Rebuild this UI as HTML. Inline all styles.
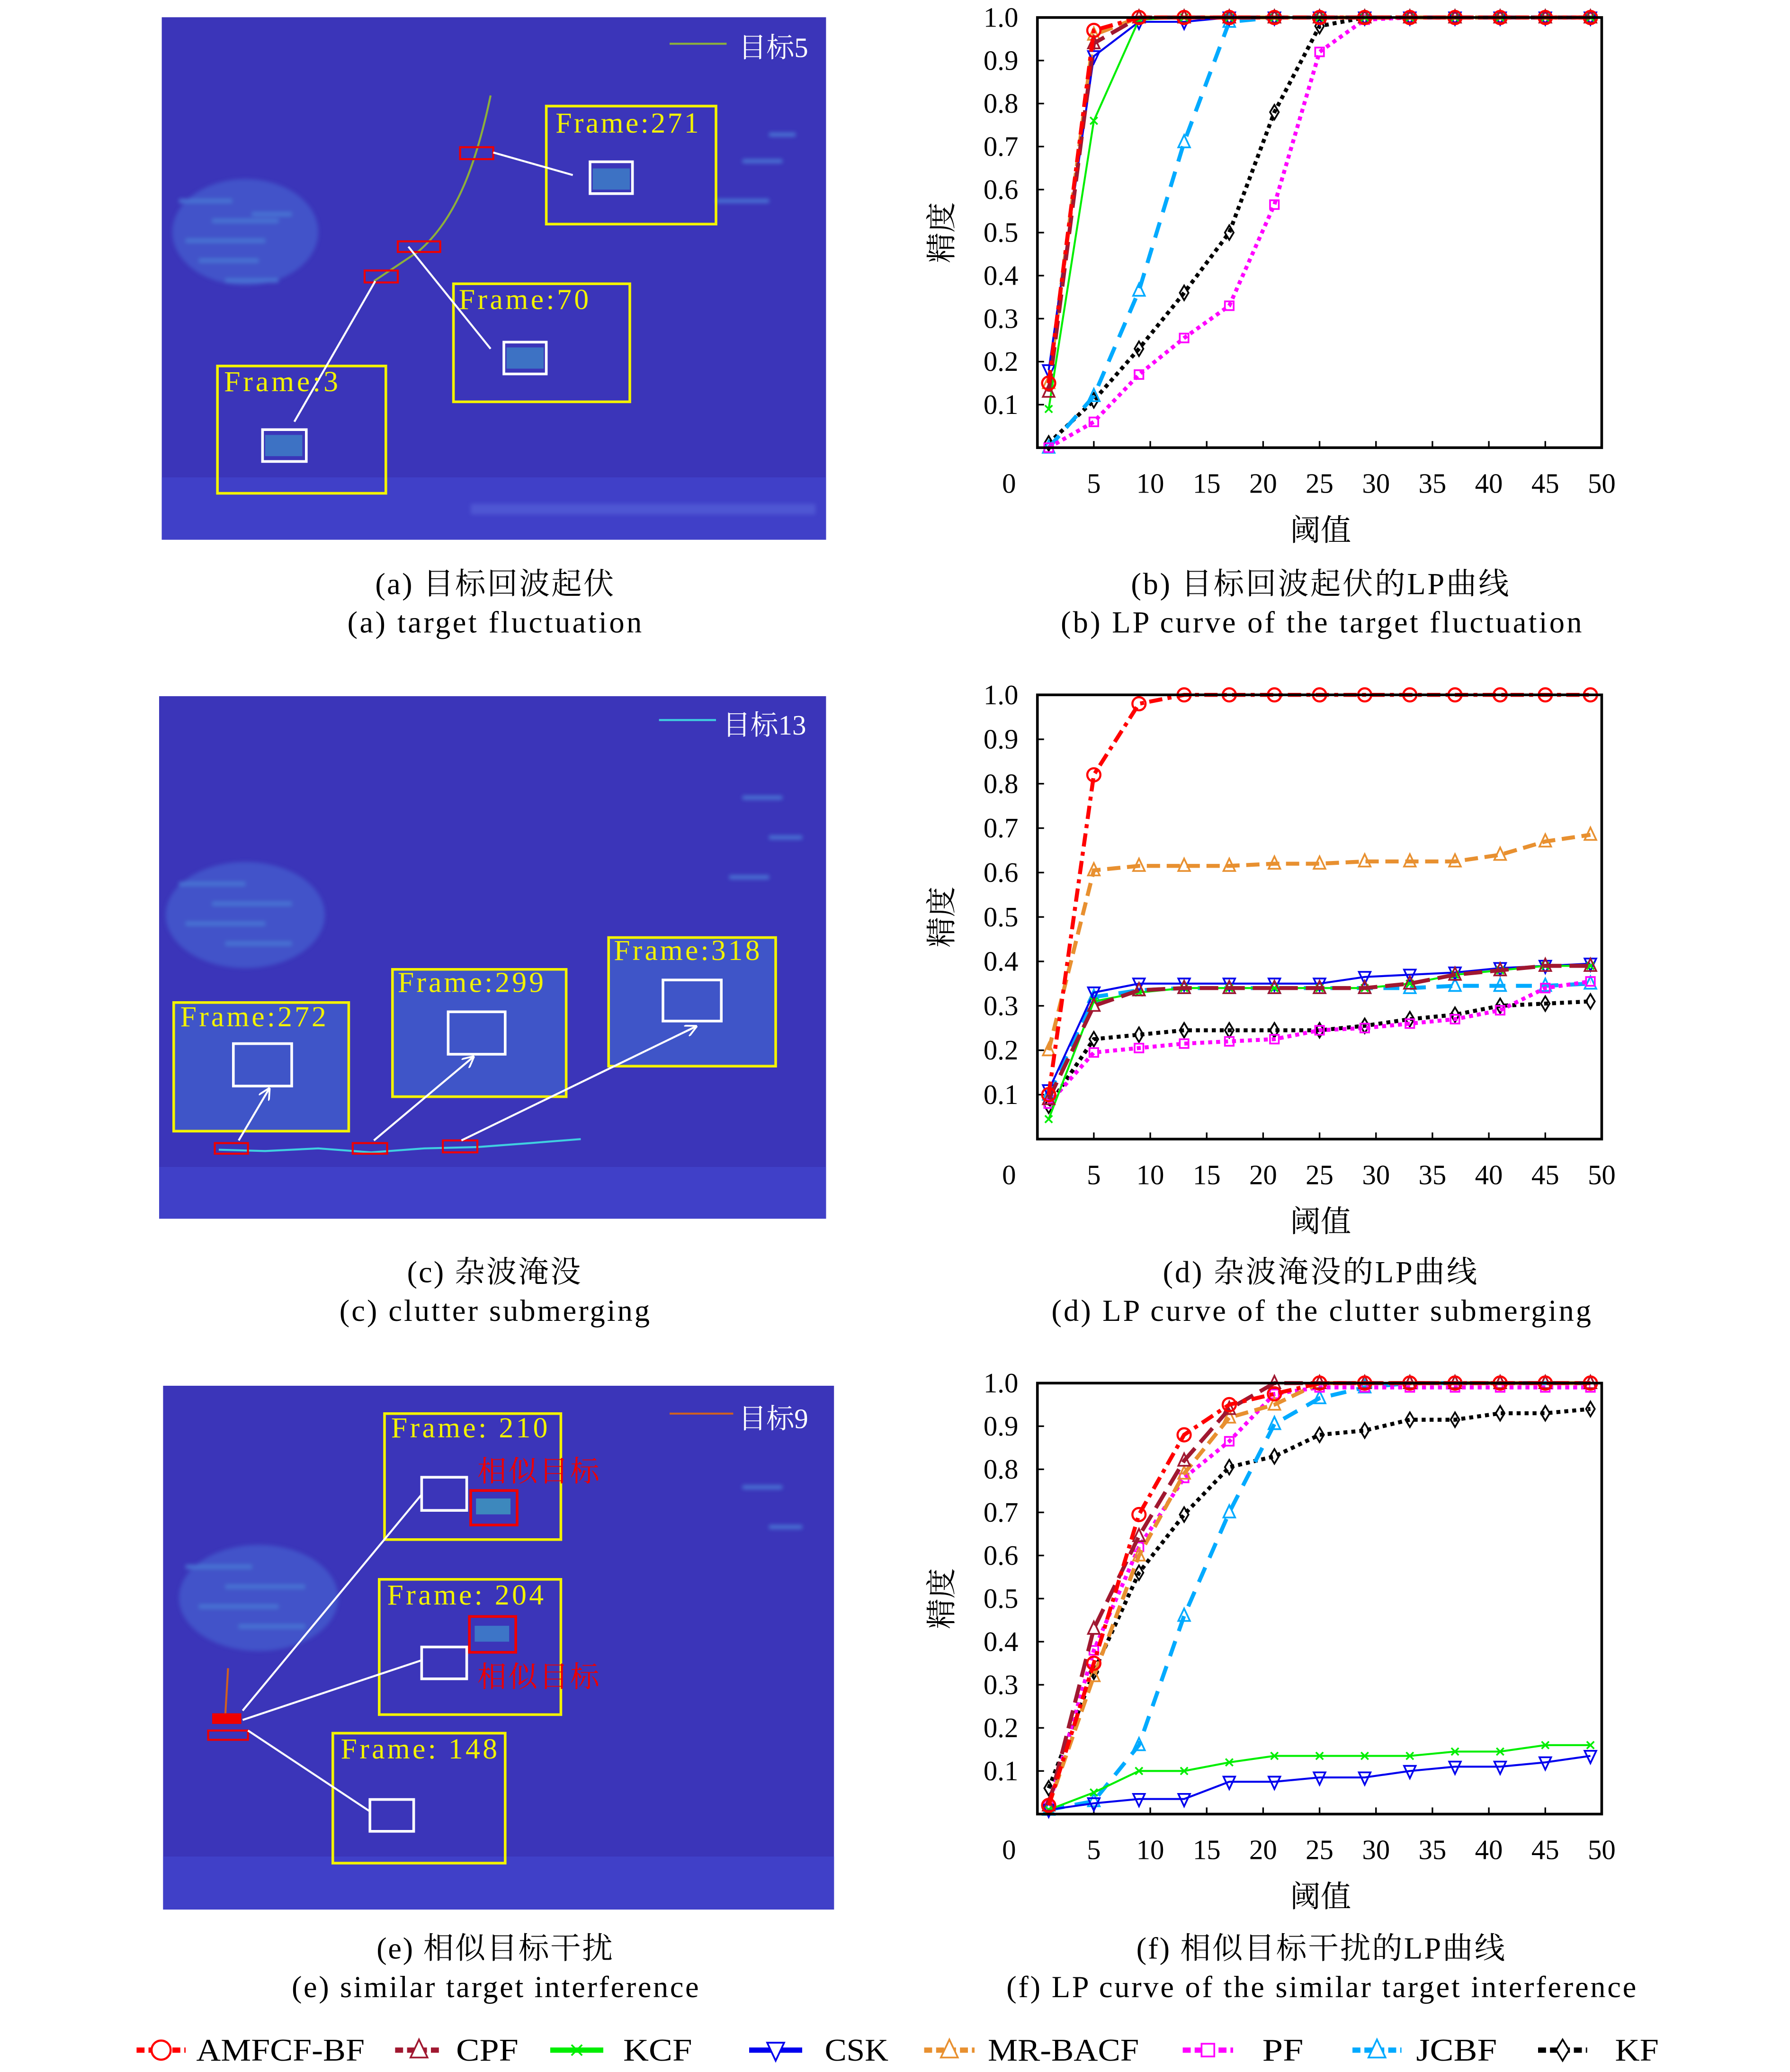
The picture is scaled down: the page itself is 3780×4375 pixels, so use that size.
<!DOCTYPE html>
<html><head><meta charset="utf-8">
<style>
html,body{margin:0;padding:0;background:#fff;}
svg{display:block;}
text{font-family:"Liberation Serif","Noto Serif CJK SC",serif;}
</style></head>
<body>
<svg id="root" xmlns="http://www.w3.org/2000/svg" width="3780" height="4375" viewBox="0 0 1350 1562.5">
<defs>
<filter id="blur1"><feGaussianBlur stdDeviation="1.5"/></filter>
<marker id="arr" viewBox="0 0 10 10" refX="9" refY="5" markerWidth="6" markerHeight="6" orient="auto"><path d="M0,0 L10,5 L0,10" fill="none" stroke="#fff" stroke-width="1.5"/></marker>
</defs>

<!-- Image (a) -->
<g>
<rect x="122" y="13" width="501" height="394" fill="#3b35b9"/>
<rect x="122" y="360" width="501" height="47" fill="#4040c8"/>
<g filter="url(#blur1)" fill="#4f8fe0" opacity="0.7">
<ellipse cx="185" cy="175" rx="55" ry="40" fill="#4560d0"/>
<rect x="135" y="150" width="40" height="3"/><rect x="160" y="165" width="50" height="3"/><rect x="140" y="180" width="60" height="3"/><rect x="150" y="195" width="45" height="3"/><rect x="170" y="210" width="40" height="3"/><rect x="190" y="160" width="30" height="3"/>
<rect x="540" y="150" width="40" height="3"/><rect x="560" y="120" width="30" height="3"/><rect x="580" y="100" width="20" height="3"/>
<rect x="355" y="380" width="260" height="8" fill="#5560d8"/>
</g>
<path d="M370,72 C360,120 345,165 315,190 L282,212" fill="none" stroke="#8db03a" stroke-width="1.5"/>
<rect x="412" y="80" width="128" height="89" fill="none" stroke="#f2f200" stroke-width="2"/>
<rect x="342" y="214" width="133" height="89" fill="none" stroke="#f2f200" stroke-width="2"/>
<rect x="164" y="276" width="127" height="96" fill="none" stroke="#f2f200" stroke-width="2"/>
<rect x="447" y="127" width="28" height="16" fill="#3fb0d0" opacity="0.5"/>
<rect x="382" y="262" width="28" height="16" fill="#3fb0d0" opacity="0.5"/>
<rect x="200" y="328" width="28" height="16" fill="#3fb0d0" opacity="0.5"/>
<rect x="445" y="122" width="32" height="24" fill="none" stroke="#fff" stroke-width="2"/>
<rect x="380" y="258" width="32" height="24" fill="none" stroke="#fff" stroke-width="2"/>
<rect x="198" y="324" width="33" height="24" fill="none" stroke="#fff" stroke-width="2"/>
<rect x="347" y="111" width="25" height="9" fill="none" stroke="#e00" stroke-width="1.5"/>
<rect x="300" y="182" width="32" height="8" fill="none" stroke="#e00" stroke-width="1.5"/>
<rect x="275" y="204" width="25" height="9" fill="none" stroke="#e00" stroke-width="1.5"/>
<line x1="372" y1="115" x2="432" y2="132" stroke="#fff" stroke-width="1.5"/>
<line x1="308" y1="186" x2="370" y2="263" stroke="#fff" stroke-width="1.5"/>
<line x1="283" y1="212" x2="222" y2="318" stroke="#fff" stroke-width="1.5"/>
<text x="419" y="100" font-size="22" fill="#f2f200" textLength="108">Frame:271</text>
<text x="346" y="233" font-size="22" fill="#f2f200" textLength="98">Frame:70</text>
<text x="169" y="295" font-size="22" fill="#f2f200" textLength="86">Frame:3</text>
<line x1="505" y1="33" x2="548" y2="33" stroke="#8db03a" stroke-width="1.5"/>
<text x="557" y="43" font-size="21" fill="#fff">目标5</text>
</g>

<!-- Image (c) -->
<g>
<rect x="120" y="525" width="503" height="394" fill="#3b35b9"/>
<rect x="120" y="880" width="503" height="39" fill="#4040c8"/>
<g filter="url(#blur1)" fill="#4f8fe0" opacity="0.7">
<ellipse cx="185" cy="690" rx="60" ry="40" fill="#4560d0"/>
<rect x="135" y="665" width="50" height="3"/><rect x="160" y="680" width="60" height="3"/><rect x="140" y="695" width="60" height="3"/><rect x="170" y="710" width="50" height="3"/>
<rect x="560" y="600" width="30" height="3"/><rect x="580" y="630" width="25" height="3"/><rect x="550" y="660" width="30" height="3"/>
</g>
<rect x="131" y="756" width="132" height="97" fill="#3f55c8"/>
<rect x="296" y="731" width="131" height="96" fill="#3f55c8"/>
<rect x="459" y="707" width="126" height="97" fill="#3f55c8"/>
<rect x="131" y="756" width="132" height="97" fill="none" stroke="#f2f200" stroke-width="2"/>
<rect x="296" y="731" width="131" height="96" fill="none" stroke="#f2f200" stroke-width="2"/>
<rect x="459" y="707" width="126" height="97" fill="none" stroke="#f2f200" stroke-width="2"/>
<rect x="176" y="787" width="44" height="32" fill="none" stroke="#fff" stroke-width="2"/>
<rect x="338" y="763" width="43" height="32" fill="none" stroke="#fff" stroke-width="2"/>
<rect x="500" y="739" width="44" height="31" fill="none" stroke="#fff" stroke-width="2"/>
<polyline points="165,867 200,868 240,866 280,869 320,866 360,865 400,862 438,859" fill="none" stroke="#40d0e0" stroke-width="1.5"/>
<rect x="162" y="862" width="25" height="8" fill="none" stroke="#e00" stroke-width="1.5"/>
<rect x="266" y="862" width="26" height="8" fill="none" stroke="#e00" stroke-width="1.5"/>
<rect x="334" y="860" width="26" height="9" fill="none" stroke="#e00" stroke-width="1.5"/>
<line x1="180" y1="860" x2="203" y2="821" stroke="#fff" stroke-width="1.5" marker-end="url(#arr)"/>
<line x1="282" y1="860" x2="357" y2="797" stroke="#fff" stroke-width="1.5" marker-end="url(#arr)"/>
<line x1="348" y1="860" x2="525" y2="774" stroke="#fff" stroke-width="1.5" marker-end="url(#arr)"/>
<text x="136" y="774" font-size="22" fill="#f2f200" textLength="110">Frame:272</text>
<text x="300" y="748" font-size="22" fill="#f2f200" textLength="110">Frame:299</text>
<text x="463" y="724" font-size="22" fill="#f2f200" textLength="110">Frame:318</text>
<line x1="497" y1="543" x2="540" y2="543" stroke="#40d0e0" stroke-width="1.5"/>
<text x="545" y="554" font-size="21" fill="#fff">目标13</text>
</g>

<!-- Image (e) -->
<g>
<rect x="123" y="1045" width="506" height="395" fill="#3b35b9"/>
<rect x="123" y="1400" width="506" height="40" fill="#4040c8"/>
<g filter="url(#blur1)" fill="#4f8fe0" opacity="0.7">
<ellipse cx="195" cy="1205" rx="60" ry="40" fill="#4560d0"/>
<rect x="140" y="1180" width="50" height="3"/><rect x="170" y="1195" width="60" height="3"/><rect x="150" y="1210" width="60" height="3"/><rect x="180" y="1225" width="50" height="3"/>
<rect x="560" y="1120" width="30" height="3"/><rect x="580" y="1150" width="25" height="3"/>
</g>
<rect x="290" y="1066" width="133" height="95" fill="none" stroke="#f2f200" stroke-width="2"/>
<rect x="286" y="1191" width="137" height="102" fill="none" stroke="#f2f200" stroke-width="2"/>
<rect x="251" y="1307" width="130" height="98" fill="none" stroke="#f2f200" stroke-width="2"/>
<rect x="359" y="1130" width="26" height="12" fill="#40c0c0" opacity="0.6"/>
<rect x="358" y="1226" width="26" height="12" fill="#40a0d0" opacity="0.6"/>
<rect x="318" y="1114" width="34" height="25" fill="none" stroke="#fff" stroke-width="2"/>
<rect x="318" y="1242" width="34" height="24" fill="none" stroke="#fff" stroke-width="2"/>
<rect x="279" y="1357" width="33" height="24" fill="none" stroke="#fff" stroke-width="2"/>
<rect x="355" y="1124" width="35" height="26" fill="none" stroke="#e00" stroke-width="2"/>
<rect x="354" y="1219" width="35" height="27" fill="none" stroke="#e00" stroke-width="2"/>
<path d="M172,1258 L170,1292" stroke="#d06020" stroke-width="1.5"/>
<rect x="160" y="1292" width="22" height="8" fill="#e00"/>
<rect x="157" y="1305" width="30" height="7" fill="none" stroke="#e00" stroke-width="1.5"/>
<line x1="183" y1="1290" x2="318" y2="1127" stroke="#fff" stroke-width="1.5"/>
<line x1="183" y1="1297" x2="318" y2="1252" stroke="#fff" stroke-width="1.5"/>
<line x1="187" y1="1305" x2="279" y2="1366" stroke="#fff" stroke-width="1.5"/>
<text x="295" y="1084" font-size="22" fill="#f2f200" textLength="118">Frame: 210</text>
<text x="292" y="1210" font-size="22" fill="#f2f200" textLength="118">Frame: 204</text>
<text x="257" y="1326" font-size="22" fill="#f2f200" textLength="118">Frame: 148</text>
<text x="360" y="1117" font-size="22" fill="#e00" textLength="92">相似目标</text>
<text x="360" y="1272" font-size="22" fill="#e00" textLength="92">相似目标</text>
<line x1="505" y1="1066" x2="553" y2="1066" stroke="#d06020" stroke-width="1.5"/>
<text x="557" y="1077" font-size="21" fill="#fff">目标9</text>
</g>

<!-- Captions -->
<g font-size="23" fill="#000" lengthAdjust="spacingAndGlyphs">
<text x="283" y="448" textLength="180">(a) 目标回波起伏</text>
<text x="262" y="477" textLength="222">(a) target fluctuation</text>
<text x="853" y="448" textLength="285">(b) 目标回波起伏的LP曲线</text>
<text x="800" y="477" textLength="393">(b) LP curve of the target fluctuation</text>
<text x="307" y="967" textLength="131">(c) 杂波淹没</text>
<text x="256" y="996" textLength="234">(c) clutter submerging</text>
<text x="877" y="967" textLength="237">(d) 杂波淹没的LP曲线</text>
<text x="793" y="996" textLength="407">(d) LP curve of the clutter submerging</text>
<text x="284" y="1477" textLength="178">(e) 相似目标干扰</text>
<text x="220" y="1506" textLength="307">(e) similar target interference</text>
<text x="857" y="1477" textLength="278">(f) 相似目标干扰的LP曲线</text>
<text x="759" y="1506" textLength="475">(f) LP curve of the similar target interference</text>
</g>
<g id="charts"></g>
<g id="legend"></g>
</svg>
<script>
const xs = [1,5,9,13,17,21,25,29,33,37,41,45,49];
const xTicks = [0,5,10,15,20,25,30,35,40,45,50];
const yTicks = [0.1,0.2,0.3,0.4,0.5,0.6,0.7,0.8,0.9,1.0];
const seriesNames = ["AMFCF-BF","CPF","KCF","CSK","MR-BACF","PF","JCBF","KF"];
// chart b
const bAMF = [0.15,0.97,1,1,1,1,1,1,1,1,1,1,1];
const bCPF = [0.13,0.94,1,1,1,1,1,1,1,1,1,1,1];
const bKCF = [0.09,0.76,0.995,1,1,1,1,1,1,1,1,1,1];
const bCSK = [0.18,0.91,0.99,0.99,1,1,1,1,1,1,1,1,1];
const bMR = [0.15,0.96,1,1,1,1,1,1,1,1,1,1,1];
const bPF = [0,0.06,0.17,0.255,0.33,0.565,0.92,0.995,1,1,1,1,1];
const bJC = [0,0.12,0.365,0.71,0.99,1,1,1,1,1,1,1,1];
const bKF = [0.01,0.11,0.23,0.36,0.5,0.78,0.98,1,1,1,1,1,1];
// chart d
const dAMF = [0.1,0.82,0.98,1,1,1,1,1,1,1,1,1,1];
const dCPF = [0.09,0.3,0.335,0.34,0.34,0.34,0.34,0.34,0.35,0.37,0.38,0.39,0.39];
const dKCF = [0.045,0.31,0.33,0.34,0.34,0.34,0.34,0.34,0.35,0.37,0.38,0.39,0.39];
const dCSK = [0.11,0.33,0.35,0.35,0.35,0.35,0.35,0.365,0.37,0.375,0.385,0.39,0.395];
const dMR = [0.2,0.605,0.615,0.615,0.615,0.62,0.62,0.625,0.625,0.625,0.64,0.67,0.685];
const dPF = [0.08,0.195,0.205,0.215,0.22,0.225,0.245,0.25,0.26,0.27,0.29,0.34,0.355];
const dJC = [0.1,0.32,0.335,0.34,0.34,0.34,0.34,0.34,0.34,0.345,0.345,0.345,0.35];
const dKF = [0.075,0.225,0.235,0.245,0.245,0.245,0.245,0.255,0.27,0.28,0.3,0.305,0.31];
// chart f
const fAMF = [0.02,0.35,0.695,0.88,0.95,0.975,1,1,1,1,1,1,1];
const fCPF = [0.02,0.43,0.645,0.82,0.94,1,1,1,1,1,1,1,1];
const fKCF = [0.01,0.05,0.1,0.1,0.12,0.135,0.135,0.135,0.135,0.145,0.145,0.16,0.16];
const fCSK = [0.01,0.025,0.035,0.035,0.075,0.075,0.085,0.085,0.1,0.11,0.11,0.12,0.135];
const fMR = [0.02,0.32,0.6,0.79,0.92,0.95,1,1,1,1,1,1,1];
const fPF = [0.02,0.38,0.62,0.78,0.865,0.975,0.99,0.99,0.99,0.99,0.99,0.99,0.99];
const fJC = [0.01,0.03,0.16,0.46,0.7,0.905,0.965,0.99,1,1,1,1,1];
const fKF = [0.06,0.33,0.56,0.695,0.805,0.83,0.88,0.89,0.915,0.915,0.93,0.93,0.94];

const NS = "http://www.w3.org/2000/svg";
const styles = [
 {c:"#ff0000",w:3,d:"10 4 3 4",m:"circle"},
 {c:"#a01830",w:3,d:"14 6",m:"tri"},
 {c:"#00ee00",w:1.5,d:"",m:"x"},
 {c:"#0000ee",w:1.5,d:"",m:"tridown"},
 {c:"#e89030",w:3,d:"10 5",m:"tri"},
 {c:"#ff00ff",w:3,d:"3 3",m:"square"},
 {c:"#00aaff",w:3,d:"12 8",m:"tri"},
 {c:"#000000",w:3,d:"3 3",m:"diamond"}
];
function el(tag, attrs, parent){const e=document.createElementNS(NS,tag);for(const k in attrs)e.setAttribute(k,attrs[k]);parent.appendChild(e);return e;}
function marker(g,type,x,y,c,s,fill){
  let e;
  if(type==="circle") e=el("circle",{cx:x,cy:y,r:s*0.9,fill:fill||"none",stroke:c,"stroke-width":1.6},g);
  else if(type==="tri") e=el("polygon",{points:`${x},${y-s} ${x-s*0.8},${y+s*0.7} ${x+s*0.8},${y+s*0.7}`,fill:fill||"none",stroke:c,"stroke-width":1.3},g);
  else if(type==="tridown") e=el("polygon",{points:`${x},${y+s} ${x-s*0.8},${y-s*0.7} ${x+s*0.8},${y-s*0.7}`,fill:fill||"none",stroke:c,"stroke-width":1.3},g);
  else if(type==="square") e=el("rect",{x:x-s*0.6,y:y-s*0.6,width:s*1.2,height:s*1.2,fill:fill||"none",stroke:c,"stroke-width":1.3},g);
  else if(type==="diamond") e=el("polygon",{points:`${x},${y-s} ${x+s*0.6},${y} ${x},${y+s} ${x-s*0.6},${y}`,fill:fill||"none",stroke:c,"stroke-width":1.3},g);
  else { e=el("path",{d:`M${x-s*0.5},${y-s*0.5}L${x+s*0.5},${y+s*0.5}M${x-s*0.5},${y+s*0.5}L${x+s*0.5},${y-s*0.5}`,stroke:c,"stroke-width":1.3},g); }
  return e;
}
function drawChart(id, T, B, data){
  const L=782.4, R=1208;
  const sx=v=>L+(R-L)*v/50, sy=v=>B-(B-T)*v;
  const g=el("g",{},document.getElementById("charts"));
  
  
  yTicks.forEach(t=>{
    el("line",{x1:L,y1:sy(t),x2:L+5,y2:sy(t),stroke:"#000","stroke-width":1.2},g);
    const lab=el("text",{x:768,y:sy(t)+7,"font-size":21,"text-anchor":"end"},g);
    lab.textContent=t.toFixed(1);
    
    
  });
  xTicks.forEach(t=>{
    if(t>0) el("line",{x1:sx(t),y1:B,x2:sx(t),y2:B-5,stroke:"#000","stroke-width":1.2},g);
    const lab=el("text",{x:t===0?761:sx(t),y:B+34,"font-size":21,"text-anchor":"middle"},g);
    lab.textContent=String(t);
    
    
  });
  const xt=el("text",{x:996,y:B+70,"font-size":23,"text-anchor":"middle"},g);
  xt.textContent="阈值";
  
  
  const cy=(T+B)/2;
  const yt=el("text",{x:0,y:0,"font-size":23,"text-anchor":"middle",transform:`translate(718,${cy}) rotate(-90)`},g);
  yt.textContent="精度";
  
  
  for(let i=data.length-1;i>=0;i--){
    const s=styles[i], vals=data[i];
    const sg=el("g",{},g);
    
    
    const pts=vals.map((v,k)=>sx(xs[k])+","+sy(v)).join(" ");
    const pl=el("polyline",{points:pts,fill:"none",stroke:s.c,"stroke-width":s.w,"stroke-dasharray":s.d},sg);
    
    
    vals.forEach((v,k)=>{
      const m=marker(sg,s.m,sx(xs[k]),sy(v),s.c,5.5);
      
      
    });
  }
  const ax=el("rect",{x:L,y:T,width:R-L,height:B-T,fill:"none",stroke:"#000","stroke-width":2},g);
  
  
}
drawChart("b",13.2,337.6,[bAMF,bCPF,bKCF,bCSK,bMR,bPF,bJC,bKF]);
drawChart("d",524,859,[dAMF,dCPF,dKCF,dCSK,dMR,dPF,dJC,dKF]);
drawChart("f",1043,1368,[fAMF,fCPF,fKCF,fCSK,fMR,fPF,fJC,fKF]);

const legX=[[103,140,148,127],[298,334,344,47],[415,455,470,52],[565,605,622,48],[697,735,745,114],[892,930,952,31],[1020,1057,1068,61],[1160,1197,1218,33]];
const lg=document.getElementById("legend");
seriesNames.forEach((n,i)=>{
  const s=styles[i], p=legX[i], y=1546;
  const g=el("g",{},lg);
  
  
  el("line",{x1:p[0],y1:y,x2:p[1],y2:y,stroke:s.c,"stroke-width":4,"stroke-dasharray":s.d?"6 3":""},g);
  marker(g,s.m,(p[0]+p[1])/2,y,s.c,8,"#fff");
  const t=el("text",{x:p[2],y:y+8,"font-size":24,textLength:p[3],lengthAdjust:"spacingAndGlyphs"},g);
  t.textContent=n;
});
</script>
</body></html>
